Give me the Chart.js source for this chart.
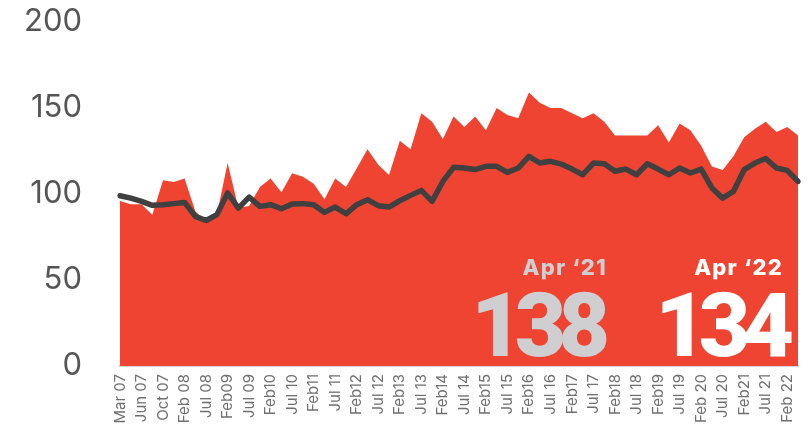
<!DOCTYPE html>
<html lang="en">
<head>
    <meta charset="UTF-8">
    <title>Index</title>
    <script src="https://cdn.jsdelivr.net/npm/chart.js"></script>
    <style>
        body { margin: 0; background: #fff; }
        .wrap { position: relative; width: 810px; height: 433px; }
        .note { position: absolute; font-weight: 900; line-height: 1; text-align: right; white-space: nowrap; }
        .small { font-family: Inter, sans-serif; font-weight: 800; font-size: 22px; letter-spacing: 1.2px; }
        .big { font-family: Roboto, sans-serif; font-size: 89px; letter-spacing: -8px; }
    </style>
</head>
<body>
    <div class="wrap">
        <canvas id="grafico"></canvas>
        <div class="note small" style="right: 203px; top: 256px; color: #cfcfd1;">Apr ‘21</div>
        <div class="note big" style="right: 208px; top: 281px; color: #cfcfd1;">138</div>
        <div class="note small" style="right: 27px; top: 256px; color: #fff;">Apr ‘22</div>
        <div class="note big" style="right: 24px; top: 281px; color: #fff;">134</div>
    </div>

<script>
    // rotulos do eixo x (um a cada dois pontos)
    var tickLabels = ['Mar 07', 'Jun 07', 'Oct 07', 'Feb 08', 'Jul 08', 'Feb09', 'Jul 09', 'Feb10',
        'Jul 10', 'Feb11', 'Jul 11', 'Feb12', 'Jul 12', 'Feb13', 'Jul 13', 'Feb14',
        'Jul 14', 'Feb15', 'Jul 15', 'Feb16', 'Jul 16', 'Feb17', 'Jul 17', 'Feb18',
        'Jul 18', 'Feb19', 'Jul 19', 'Feb 20', 'Jul 20', 'Feb21', 'Jul 21', 'Feb 22'];

    // area vermelha
    var areaValues = [96, 94, 94, 88, 108, 107, 109, 90, 84, 88,
        118, 92, 93, 104, 109, 101, 112, 110, 106, 97,
        109, 104, 115, 126, 117, 111, 131, 126, 147, 142,
        132, 145, 139, 145, 137, 150, 146, 144, 159, 153,
        150, 150, 147, 144, 147, 142, 134, 134, 134, 134,
        140, 130, 141, 137, 128, 116, 114, 122, 133, 138,
        142, 136, 139, 134];

    // linha cinza
    var lineValues = [99, 97.6, 95.7, 93.4, 93.8, 94.4, 95.1, 87, 84.6, 88,
        100.6, 91.8, 98.2, 92.8, 93.8, 91.4, 94.2, 94.4, 93.8, 89.3,
        92.4, 88.5, 93.8, 96.7, 93.2, 92.4, 96.1, 99.2, 102.1, 95.7,
        107.3, 115.5, 115.1, 114.2, 116.1, 116.1, 112.6, 115.1, 121.9, 118,
        119, 117.4, 114.5, 111.2, 118, 117.6, 113.2, 114.5, 111.2, 117.6,
        114.5, 111.2, 115.1, 112.2, 114.5, 103.5, 97.6, 101.5, 114.2, 118,
        120.6, 115.1, 113.7, 107.3];

    var yTicks = [0, 50, 100, 150, 200];

    var labels = [];
    for (var i = 0; i < areaValues.length; i++) {
        labels.push(i % 2 == 0 ? tickLabels[i / 2] : '');
    }

    new Chart(document.getElementById('grafico'), {
        type: 'line',
        data: {
            labels: labels,
            datasets: [{
                data: lineValues,
                borderColor: '#404040',
                borderWidth: 5.5,
                borderCapStyle: 'round',
                borderJoinStyle: 'round',
                pointRadius: 0,
                fill: false,
                tension: 0,
                order: 0
            }, {
                data: areaValues,
                backgroundColor: '#ef4431',
                borderWidth: 0,
                pointRadius: 0,
                fill: 'origin',
                tension: 0,
                order: 1
            }]
        },
        options: {
            responsive: true,
            maintainAspectRatio: false,
            animation: false,
            layout: { padding: { top: 22, right: 12, left: 0, bottom: 0 } },
            plugins: { legend: { display: false }, tooltip: { enabled: false } },
            scales: {
                x: {
                    grid: { display: false, drawTicks: false },
                    border: { display: true, color: '#d4d4d4', width: 2 },
                    ticks: {
                        autoSkip: false,
                        minRotation: 90,
                        maxRotation: 90,
                        padding: 8,
                        color: '#707070',
                        font: { family: 'Inter', size: 15 }
                    },
                    afterFit: function (scale) {
                        scale.height = 67;
                        scale.paddingTop = 0;
                        scale.paddingBottom = 0;
                        scale.paddingLeft = 0;
                        scale.paddingRight = 0;
                    }
                },
                y: {
                    min: 0,
                    max: 200,
                    grid: { display: false, drawTicks: false },
                    border: { display: false },
                    afterBuildTicks: function (scale) {
                        scale.ticks = yTicks.map(function (v) { return { value: v }; });
                    },
                    ticks: {
                        padding: 38,
                        color: '#555',
                        font: { family: 'Inter', size: 31 }
                    },
                    afterFit: function (scale) {
                        scale.width = 120;
                        scale.paddingTop = 0;
                        scale.paddingBottom = 0;
                    }
                }
            }
        }
    });
</script>
</body>
</html>
